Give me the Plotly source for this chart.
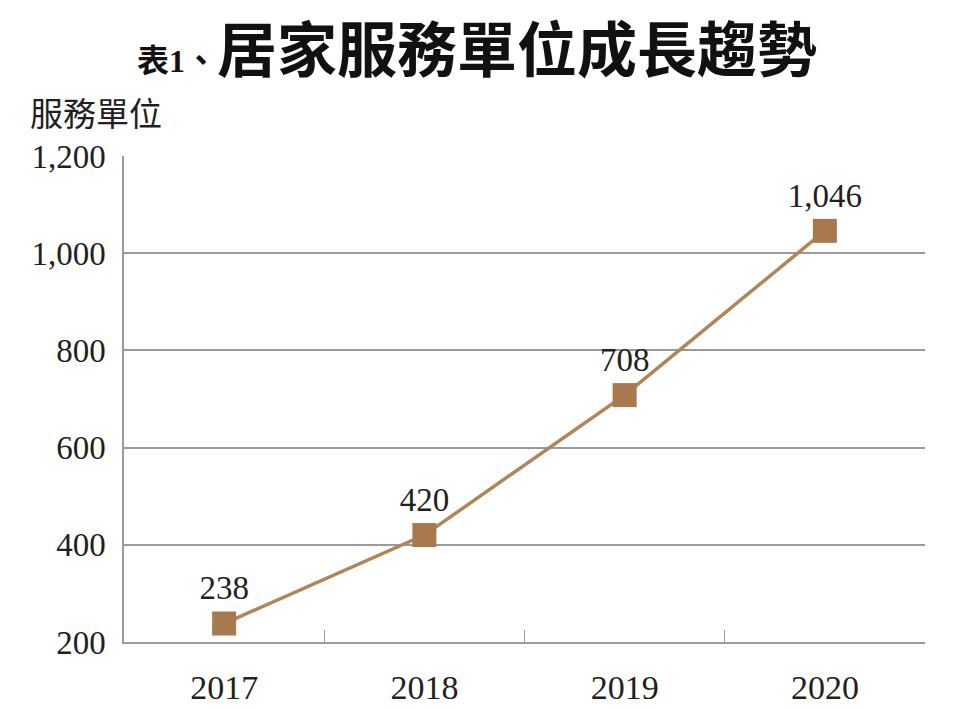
import plotly.graph_objects as go

years = ["2017", "2018", "2019", "2020"]
units = [238, 420, 708, 1046]
labels = ["238", "420", "708", "1,046"]
y_ticks = [200, 400, 600, 800, 1000, 1200]
y_tick_text = ["200", "400", "600", "800", "1,000", "1,200"]

serif = "Liberation Serif, Noto Sans CJK TC, serif"
cjk = "Liberation Serif, Noto Sans CJK TC"
ink = "#231f20"
brown_line = "#b08558"
brown_marker = "#a8784e"
grid = "#9a9a9a"

fig = go.Figure()
fig.add_trace(go.Scatter(
    x=years, y=units, mode="lines+markers+text",
    text=labels, textposition="top center",
    textfont=dict(family=serif, size=33, color=ink),
    line=dict(color=brown_line, width=3.5),
    marker=dict(symbol="square", size=24, color=brown_marker),
    cliponaxis=False, hoverinfo="skip",
))

fig.update_layout(
    width=960, height=710,
    margin=dict(l=116, r=43, t=148, b=74),
    paper_bgcolor="white", plot_bgcolor="white",
    showlegend=False,
    font=dict(family=serif, color=ink),
    xaxis=dict(
        type="category", range=[-0.5, 3.5],
        tickson="boundaries", ticks="inside", ticklen=12, tickwidth=1.2, tickcolor=grid,
        showline=True, linecolor=grid, linewidth=1.5,
        showgrid=False, zeroline=False,
        tickfont=dict(family=serif, size=34, color=ink),
        ticklabelstandoff=14,
    ),
    yaxis=dict(
        range=[200, 1200], tickvals=y_ticks, ticktext=y_tick_text,
        showgrid=True, gridcolor=grid, gridwidth=1.5,
        showline=True, linecolor=grid, linewidth=1.5,
        zeroline=False, ticks="",
        tickfont=dict(family=serif, size=33, color=ink),
        ticklabelstandoff=10,
    ),
    annotations=[
        dict(
            text='<b><span style="font-size:32px">表1、</span>居家服務單位成長趨勢</b>',
            xref="paper", yref="paper", x=0.441, y=1.213,
            xanchor="center", yanchor="middle", showarrow=False,
            font=dict(family=cjk, size=60, color="#111111"),
        ),
        dict(
            text="服務單位",
            xref="paper", yref="paper", x=-0.12, y=1.084,
            xanchor="left", yanchor="middle", showarrow=False,
            font=dict(family=cjk, size=33, color=ink),
        ),
    ],
)

fig.write_html("out.html")
